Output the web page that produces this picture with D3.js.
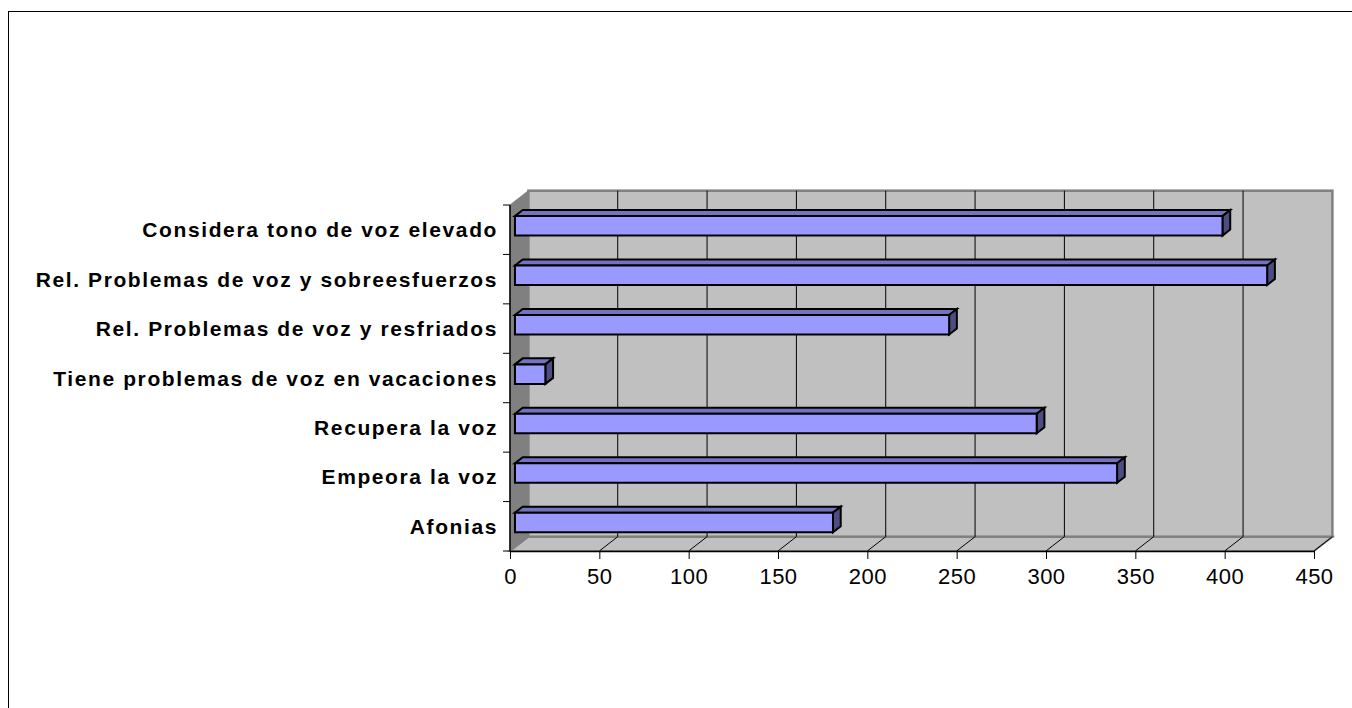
<!DOCTYPE html>
<html>
<head>
<meta charset="utf-8">
<script src="https://cdn.jsdelivr.net/npm/d3@7"></script>
<style>
  html, body { margin: 0; padding: 0; background: #fff; }
  svg { display: block; }
</style>
</head>
<body>
<svg id="chart" width="1352" height="708"></svg>
<script>
// Categories in series order (first one drawn at the bottom, as in the original)
const categories = [
  "Afonias",
  "Empeora la voz",
  "Recupera la voz",
  "Tiene problemas de voz en vacaciones",
  "Rel. Problemas de voz y resfriados",
  "Rel. Problemas de voz y sobreesfuerzos",
  "Considera tono de voz elevado"
];
const values = [178, 337, 292, 17, 243, 421, 396];
const xTicks = [0, 50, 100, 150, 200, 250, 300, 350, 400, 450];

(function () {
const svg = d3.select("#chart");

// layout of the 3D box
const L = 510, R = 1314, F = 551, T = 205;
const dx = 18.4, dy = -14.3;   // depth offset
const z1 = 0.27, z2 = 0.69;     // bar depth range (fraction of depth)

const x = d3.scaleLinear().domain([0, 450]).range([L, R]);
const y = d3.scaleBand().domain(categories).range([F, T]).padding(0);

// chart frame
svg.append("rect")
  .attr("x", 8.5).attr("y", 11.5).attr("width", 1500).attr("height", 900)
  .attr("fill", "#fff").attr("stroke", "#000").attr("stroke-width", 1);

const P = (px, py, z) => [px + dx * z, py + dy * z];
const poly = pts => pts.map(p => p.join(",")).join(" ");

// side wall
svg.append("polygon")
  .attr("points", poly([P(L, F, 0), P(L, T, 0), P(L, T, 1), P(L, F, 1)]))
  .attr("fill", "#808080").attr("stroke", "#808080").attr("stroke-width", 1);

// floor
svg.append("polygon")
  .attr("points", poly([P(L, F, 0), P(L, F, 1), P(R, F, 1), P(R, F, 0)]))
  .attr("fill", "#c0c0c0").attr("stroke", "#808080").attr("stroke-width", 2);

// back wall
svg.append("rect")
  .attr("x", L + dx).attr("y", T + dy)
  .attr("width", R - L).attr("height", F - T)
  .attr("fill", "#c0c0c0").attr("stroke", "#808080").attr("stroke-width", 2.5);

// gridlines (back wall + floor)
const grid = svg.append("g");
xTicks.filter(t => t > 0 && t < 450).forEach(t => {
  const xb = x(t) + dx;
  grid.append("line")
    .attr("x1", xb).attr("x2", xb).attr("y1", T + dy).attr("y2", F + dy)
    .attr("stroke", "#000").attr("stroke-width", 1);
});
xTicks.filter(t => t > 0).forEach(t => {
  grid.append("line")
    .attr("x1", x(t)).attr("y1", F).attr("x2", x(t) + dx).attr("y2", F + dy)
    .attr("stroke", "#000").attr("stroke-width", 1);
});

// bars
const bh = y.bandwidth() * 0.395;
const bars = svg.append("g");
categories.forEach((c, i) => {
  const v = values[i];
  const yc = y(c) + y.bandwidth() / 2;
  const yt = yc - bh / 2, yb = yc + bh / 2;
  const x0 = x(0), x1 = x(v);
  const g = bars.append("g").attr("stroke", "#000").attr("stroke-width", 2).attr("stroke-linejoin", "miter");
  g.append("polygon")
    .attr("points", poly([P(x0, yt, z1), P(x0, yt, z2), P(x1, yt, z2), P(x1, yt, z1)]))
    .attr("fill", "#7373c0");
  g.append("polygon")
    .attr("points", poly([P(x1, yt, z1), P(x1, yt, z2), P(x1, yb, z2), P(x1, yb, z1)]))
    .attr("fill", "#4d4d80");
  g.append("polygon")
    .attr("points", poly([P(x0, yt, z1), P(x1, yt, z1), P(x1, yb, z1), P(x0, yb, z1)]))
    .attr("fill", "#9999ff");
});

// value axis
const xAxis = d3.axisBottom(x).tickValues(xTicks).tickSize(8).tickPadding(9).tickSizeOuter(0);
const gx = svg.append("g").attr("transform", `translate(0,${F})`).call(xAxis);
gx.select(".domain").attr("stroke", "#000").attr("stroke-width", 1.5);
gx.selectAll(".tick line").attr("stroke", "#000");
gx.selectAll(".tick text")
  .attr("fill", "#000")
  .style("font-family", "Arial, 'Liberation Sans', sans-serif")
  .style("font-size", "22px")
  .style("letter-spacing", "0.5px");

// category axis
const gy = svg.append("g");
gy.append("line").attr("x1", L).attr("x2", L).attr("y1", T).attr("y2", F)
  .attr("stroke", "#000").attr("stroke-width", 1.5);
const bounds = categories.map(c => y(c)).concat([F]);
bounds.forEach(b => {
  gy.append("line").attr("x1", L - 7).attr("x2", L).attr("y1", b).attr("y2", b)
    .attr("stroke", "#000").attr("stroke-width", 1);
});
categories.forEach(c => {
  gy.append("text")
    .attr("x", 498).attr("y", y(c) + y.bandwidth() / 2)
    .attr("text-anchor", "end").attr("dominant-baseline", "central")
    .style("font-family", "Arial, 'Liberation Sans', sans-serif")
    .style("font-weight", "bold").style("font-size", "21px")
    .style("letter-spacing", "1.6px")
    .text(c);
});
})();
</script>
</body>
</html>
